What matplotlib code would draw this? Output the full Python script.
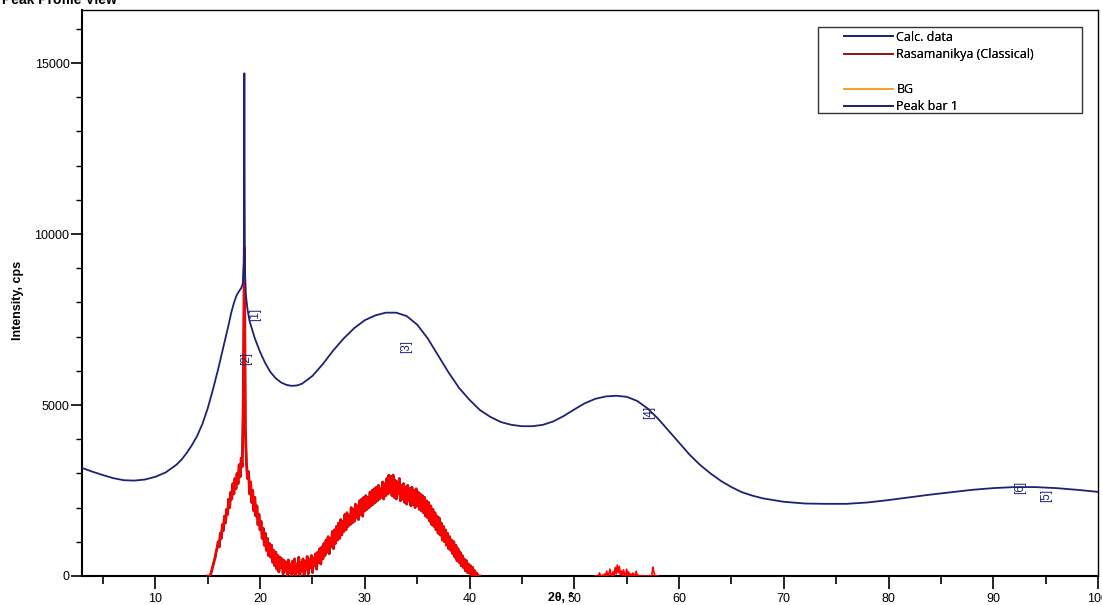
"""Peak profile view: calc. data vs. measured pattern."""

import numpy as np
import matplotlib
matplotlib.use('Agg')
import matplotlib.pyplot as plt
from matplotlib.lines import Line2D
from matplotlib.patches import Rectangle

# calculated profile (2theta, cps)
CALC_X = [3, 4, 5, 6, 7, 8, 9, 10, 11, 12, 12.5, 13, 13.5, 14, 14.5, 15, 15.5,
          16, 16.5, 17, 17.25, 17.5, 17.75, 18, 18.2, 18.35, 18.45, 18.5,
          18.55, 18.65, 18.8, 19, 19.5, 20, 20.5, 21, 21.5, 22, 22.5, 23,
          23.5, 24, 25, 26, 27, 28, 29, 30, 31, 32, 33, 34, 35, 36, 37, 38,
          39, 40, 41, 42, 43, 44, 45, 46, 47, 48, 49, 50, 51, 52, 53, 54, 55,
          56, 57, 58, 59, 60, 61, 62, 63, 64, 65, 66, 67, 68, 70, 72, 74, 76,
          78, 80, 82, 84, 86, 88, 90, 92, 94, 96, 98, 100]
CALC_Y = [3160, 3050, 2950, 2860, 2800, 2790, 2820, 2900, 3030, 3250, 3400,
          3600, 3830, 4100, 4450, 4900, 5450, 6050, 6700, 7350, 7700, 7980,
          8200, 8330, 8420, 8550, 9200, 14700, 9000, 8200, 7800, 7450, 6950,
          6550, 6220, 5960, 5780, 5660, 5590, 5560, 5570, 5620, 5850, 6200,
          6600, 6950, 7250, 7480, 7620, 7700, 7700, 7600, 7350, 6950, 6450,
          5950, 5500, 5150, 4850, 4650, 4500, 4420, 4380, 4380, 4420, 4520,
          4680, 4870, 5050, 5180, 5250, 5270, 5240, 5120, 4900, 4600, 4250,
          3900, 3550, 3250, 3000, 2780, 2600, 2450, 2350, 2270, 2170, 2120,
          2110, 2110, 2150, 2220, 2300, 2380, 2450, 2520, 2570, 2600, 2600,
          2570, 2520, 2460]

# measured pattern, 15.0 .. 41.0 step 0.1
MEAS_START = 15.0
MEAS_Y = [
    0, 0, 0, 60, 180, 300, 420, 520, 700, 820,
    1000, 850, 1250, 1100, 1500, 1330, 1750, 1550, 1950, 1800,
    2250, 2000, 2450, 2250, 2700, 2400, 2850, 2550, 3000, 2700,
    3250, 2900, 3450, 3200, 5200, 9600, 4300, 3300, 2850, 3050,
    2400, 2750, 2150, 2500, 1900, 2300, 1750, 2050, 1500, 1800,
    1350, 1600, 1100, 1400, 900, 1250, 750, 1100, 600, 950,
    550, 900, 400, 750, 300, 700, 200, 600, 120, 550,
    250, 500, 60, 450, 150, 400, 20, 470, 100, 350,
    0, 430, 80, 500, 0, 350, 120, 550, 20, 400,
    150, 500, 40, 430, 200, 570, 60, 480, 250, 600,
    100, 530, 300, 650, 200, 700, 400, 800, 350, 850,
    500, 950, 600, 1050, 700, 1150, 650, 1100, 850, 1300,
    800, 1350, 950, 1450, 1050, 1550, 1100, 1650, 1200, 1600,
    1300, 1800, 1350, 1850, 1450, 1750, 1500, 2000, 1550, 1950,
    1600, 2100, 1700, 2050, 1650, 2200, 1800, 2250, 1750, 2300,
    1900, 2350, 1950, 2300, 2000, 2450, 2050, 2500, 2100, 2550,
    2150, 2600, 2200, 2650, 2250, 2550, 2300, 2750, 2250, 2700,
    2350, 2850, 2400, 2950, 2450, 2900, 2350, 2950, 2300, 2800,
    2250, 2750, 2400, 2850, 2200, 2650, 2250, 2700, 2150, 2600,
    2100, 2650, 2200, 2550, 2050, 2600, 2100, 2500, 2000, 2550,
    2050, 2450, 1950, 2400, 1900, 2350, 1850, 2300, 1750, 2200,
    1700, 2150, 1600, 2050, 1500, 1950, 1450, 1850, 1350, 1750,
    1250, 1700, 1200, 1550, 1050, 1450, 1000, 1350, 900, 1250,
    800, 1150, 750, 1050, 650, 1000, 550, 900, 450, 800,
    400, 700, 300, 600, 250, 500, 150, 450, 100, 350,
    80, 300, 30, 250, 0, 150, 0, 80, 0, 0,
    0]

# small reflections, 52.0 .. 58.0 step 0.1
SMALL_START = 52.0
SMALL_Y = [
    0, 0, 0, 0, 90, 20, 0, 30, 0, 60,
    0, 140, 0, 60, 200, 30, 0, 120, 0, 250,
    60, 320, 100, 280, 40, 150, 0, 180, 60, 0,
    200, 20, 120, 0, 60, 0, 90, 0, 0, 140,
    0, 30, 0, 0, 0, 0, 0, 0, 0, 0,
    0, 0, 0, 0, 0, 260, 120, 0, 0, 0,
    0]

PEAK_LABELS = ['[1]', '[2]', '[3]', '[4]', '[5]', '[6]']
PEAK_X = [19.55, 18.7, 33.9, 57.1, 95.0, 92.6]
PEAK_Y = [7660, 6370, 6700, 4770, 2370, 2600]

NAVY = '#1e2272'
DARKRED = '#8b1a1a'


def main():
    plt.rcParams['font.family'] = ['Liberation Sans', 'DejaVu Sans']

    fig = plt.figure(figsize=(11.02, 6.05), dpi=100)
    ax = fig.add_axes([82 / 1102, 1 - 576 / 605, 1016 / 1102, 566 / 605])

    meas_x = MEAS_START + 0.1 * np.arange(len(MEAS_Y))
    small_x = SMALL_START + 0.1 * np.arange(len(SMALL_Y))

    ax.plot(meas_x, MEAS_Y, color=DARKRED, lw=2.0, zorder=2)
    ax.plot(meas_x, MEAS_Y, color='red', lw=1.4, zorder=3)
    ax.plot(small_x, SMALL_Y, color='red', lw=1.2, zorder=3)
    ax.plot(CALC_X, CALC_Y, color=NAVY, lw=1.3, zorder=4)

    for lab, px, py in zip(PEAK_LABELS, PEAK_X, PEAK_Y):
        ax.text(px, py, lab, rotation=90, ha='center', va='center',
                fontsize=8.5, color=NAVY, zorder=5)

    ax.set_xlim(3, 100)
    ax.set_ylim(0, 16550)
    ax.set_xticks([10, 20, 30, 40, 50, 60, 70, 80, 90, 100])
    ax.set_xticks(np.arange(5, 100, 10), minor=True)
    ax.set_yticks([0, 5000, 10000, 15000])
    ax.set_yticks(np.arange(1000, 16550, 1000), minor=True)
    ax.tick_params(axis='x', which='major', length=9, width=1.2, labelsize=9)
    ax.tick_params(axis='x', which='minor', length=6, width=1.2)
    ax.tick_params(axis='y', which='major', length=8, width=1.2, labelsize=9,
                   pad=1)
    ax.tick_params(axis='y', which='minor', length=4, width=1.0)
    for side in ['left', 'bottom']:
        ax.spines[side].set_linewidth(1.5)
    for side in ['top', 'right']:
        ax.spines[side].set_linewidth(1.0)

    # legend with its own frame
    handles = [Line2D([], [], color=NAVY, lw=1.3),
               Line2D([], [], color=DARKRED, lw=1.3),
               Line2D([], [], color='none'),
               Line2D([], [], color='#f2a428', lw=1.3),
               Line2D([], [], color=NAVY, lw=1.3)]
    labels = ['Calc. data', 'Rasamanikya (Classical)', ' ', 'BG', 'Peak bar 1']
    leg = ax.legend(handles, labels, loc='upper left', frameon=False,
                    bbox_to_anchor=((840 - 82) / 1016, (576 - 27) / 566),
                    handlelength=3.9, handletextpad=0.3, labelspacing=0.35,
                    borderaxespad=0, borderpad=0.3,
                    prop={'family': 'Open Sans', 'size': 9})
    ax.add_artist(leg)
    ax.add_patch(Rectangle(((818 - 82) / 1016, (576 - 113) / 566),
                           264 / 1016, 86 / 566, transform=ax.transAxes,
                           fill=False, edgecolor='#333333', lw=1.0,
                           zorder=6))

    fig.text(18 / 1102, 1 - 300 / 605, 'Intensity, cps', rotation=90,
             ha='center', va='center', fontsize=9, fontweight='bold')
    fig.text(548 / 1102, 1 - 598 / 605, '2θ, °', ha='left', va='center',
             fontsize=9, fontweight='bold')
    fig.text(0.002, 1 - 4 / 605, 'Peak Profile View', ha='left',
             va='baseline', fontsize=10, fontweight='bold')

    plt.savefig('out.png', dpi=100)
    plt.close()


if __name__ == '__main__':
    main()
